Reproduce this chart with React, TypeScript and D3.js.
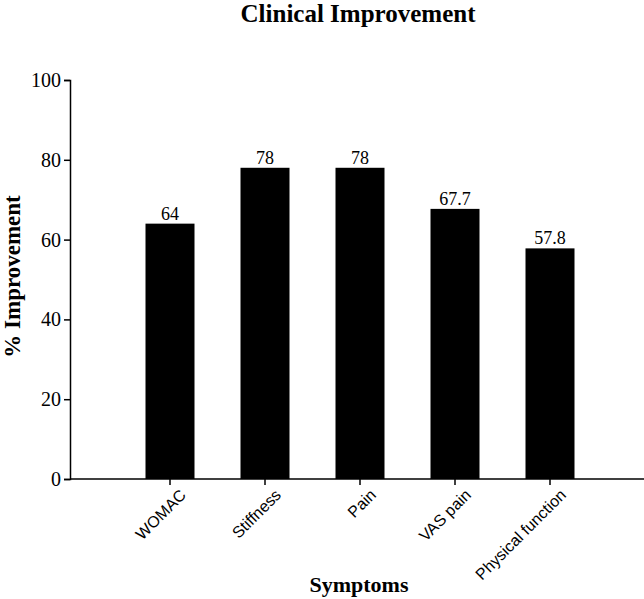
import { useEffect, useRef } from "react";
import * as d3 from "d3";

const categories = ["WOMAC", "Stiffness", "Pain", "VAS pain", "Physical function"];
const values = [64, 78, 78, 67.7, 57.8];
const yTicks = [0, 20, 40, 60, 80, 100];

const serif = "'Liberation Serif', 'Times New Roman', serif";
const sans = "'Liberation Sans', Arial, sans-serif";

const App = () => {
  const svgRef = useRef<SVGSVGElement | null>(null);

  useEffect(() => {
    if (!svgRef.current) return;
    const width = 644;
    const height = 599;
    const svg = d3.select(svgRef.current);
    svg.selectAll("*").remove();
    svg.attr("width", width).attr("height", height);

    const axisX0 = 70;
    const axisX1 = 644;
    const y = d3.scaleLinear().domain([0, 100]).range([479, 80]);
    const x = d3.scalePoint<string>().domain(categories).range([170, 550]);
    const barW = 49;

    // bars
    svg
      .selectAll("rect.bar")
      .data(values)
      .join("rect")
      .attr("class", "bar")
      .attr("x", (_, i) => x(categories[i])! - barW / 2)
      .attr("y", (d) => y(d))
      .attr("width", barW)
      .attr("height", (d) => y(0) - y(d))
      .attr("fill", "#000");

    // value labels
    svg
      .selectAll("text.val")
      .data(values)
      .join("text")
      .attr("class", "val")
      .attr("x", (_, i) => x(categories[i])!)
      .attr("y", (d) => y(d) - 4)
      .attr("text-anchor", "middle")
      .attr("font-family", serif)
      .attr("font-size", 18)
      .attr("fill", "#000")
      .text((d) => String(d));

    // y axis
    const yAxis = svg.append("g").attr("transform", `translate(${axisX0},0)`);
    yAxis
      .call(d3.axisLeft(y).tickValues(yTicks).tickSize(6).tickPadding(3))
      .call((a) => a.select(".domain").attr("stroke", "#000").attr("stroke-width", 1.5))
      .call((a) => a.selectAll(".tick line").attr("stroke", "#000").attr("stroke-width", 1.5))
      .call((a) =>
        a
          .selectAll("text")
          .attr("font-family", serif)
          .attr("font-size", 20)
          .attr("fill", "#000")
      );

    // x axis
    svg
      .append("line")
      .attr("x1", axisX0)
      .attr("x2", axisX1)
      .attr("y1", y(0))
      .attr("y2", y(0))
      .attr("stroke", "#000")
      .attr("stroke-width", 1.5);

    const xg = svg.append("g");
    xg.selectAll("line")
      .data(categories)
      .join("line")
      .attr("x1", (d) => x(d)!)
      .attr("x2", (d) => x(d)!)
      .attr("y1", y(0))
      .attr("y2", y(0) + 6)
      .attr("stroke", "#000")
      .attr("stroke-width", 1.5);
    xg.selectAll("text")
      .data(categories)
      .join("text")
      .attr("transform", (d) => `translate(${x(d)! + 17},${y(0) + 17}) rotate(-45)`)
      .attr("text-anchor", "end")
      .attr("font-family", sans)
      .attr("font-size", 16)
      .attr("fill", "#000")
      .text((d) => d);

    // titles
    svg
      .append("text")
      .attr("x", 358)
      .attr("y", 22)
      .attr("text-anchor", "middle")
      .attr("font-family", serif)
      .attr("font-weight", "bold")
      .attr("font-size", 25)
      .text("Clinical Improvement");

    svg
      .append("text")
      .attr("x", 359)
      .attr("y", 592)
      .attr("text-anchor", "middle")
      .attr("font-family", serif)
      .attr("font-weight", "bold")
      .attr("font-size", 22)
      .text("Symptoms");

    svg
      .append("text")
      .attr("transform", `translate(20,${y(50) - 3}) rotate(-90)`)
      .attr("text-anchor", "middle")
      .attr("font-family", serif)
      .attr("font-weight", "bold")
      .attr("font-size", 23)
      .text("% Improvement");
  }, []);

  return (
    <svg
      ref={svgRef}
      style={{ position: "absolute", left: 0, top: 0, background: "#fff" }}
    />
  );
};

export default App;
